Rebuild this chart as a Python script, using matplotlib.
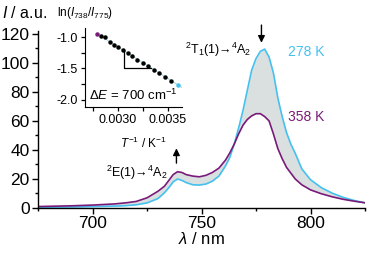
import numpy as np
import matplotlib
matplotlib.use('Agg')
import matplotlib.pyplot as plt
from matplotlib.ticker import MultipleLocator, FormatStrFormatter

plt.rcParams['font.family'] = ['Liberation Sans', 'DejaVu Sans']
plt.rcParams['mathtext.fontset'] = 'custom'
plt.rcParams['mathtext.rm'] = 'Liberation Sans'
plt.rcParams['mathtext.it'] = 'Liberation Sans:italic'
plt.rcParams['axes.unicode_minus'] = False

# emission spectra, common wavelength grid
wavelength = [675, 690, 700, 710, 715, 720, 725, 730, 733, 735, 737, 739, 741, 743,
              746, 749, 752, 755, 758, 761, 763, 765, 767, 769, 771, 773, 775, 777,
              779, 781, 783, 785, 787, 789, 791, 793, 796, 800, 805, 810, 815, 820, 825]
spec_278 = [0.5, 0.7, 1.0, 1.3, 1.6, 2.2, 3.5, 6.5, 10.5, 14, 18, 20, 19, 17.5,
            16, 15.8, 16.5, 18.5, 22, 29, 35, 44, 55, 67, 81, 95, 103, 108,
            109.5, 104, 93, 76, 63, 52, 44, 37.7, 27, 19.5, 14, 10.2, 7.3, 5.2, 3.5]
spec_358 = [1.0, 1.5, 2.0, 2.8, 3.5, 4.5, 7, 11.5, 15, 19, 23, 25, 24.5, 23,
            22, 21.5, 22.5, 24.5, 27.5, 33, 38, 44, 51, 57, 61, 63.5, 65, 65,
            63, 60, 51, 41, 34, 28, 24, 20, 16, 12.5, 9.8, 7.7, 6, 4.7, 3.6]

# inset: ln(I738/I775) vs 1/T
temps = [358, 353, 348, 343, 338, 333, 328, 323, 318, 313, 308, 303, 298, 293, 288, 283, 278]
ln_ratio = [-0.95, -0.98, -1.00, -1.07, -1.12, -1.16, -1.21, -1.25, -1.30, -1.36,
            -1.41, -1.46, -1.52, -1.57, -1.63, -1.70, -1.76]

cyan = '#45c1f0'
purple = '#7a1a78'

fig = plt.figure(figsize=(3.67, 2.56), dpi=100)
ax = fig.add_axes([38/367, 48/256, 327/367, 177/256])

wl = np.array(wavelength)
s1 = np.array(spec_278)
s2 = np.array(spec_358)
ax.fill_between(wl, s1, s2, color='#dae0e0', lw=0)
ax.plot(wl, s1, color=cyan, lw=1.2)
ax.plot(wl, s2, color=purple, lw=1.2)

ax.set_xlim(675, 825)
ax.set_ylim(0, 122)
ax.xaxis.set_major_locator(MultipleLocator(50))
ax.xaxis.set_minor_locator(MultipleLocator(25))
ax.yaxis.set_major_locator(MultipleLocator(20))
ax.yaxis.set_minor_locator(MultipleLocator(10))
for s in ['top', 'right']:
    ax.spines[s].set_visible(False)
for s in ['left', 'bottom']:
    ax.spines[s].set_linewidth(1.0)
ax.tick_params(which='major', direction='out', length=4.5, width=1.0, labelsize=12.5, pad=1.5)
ax.tick_params(which='minor', direction='out', length=2.5, width=1.0)
ax.set_xlabel(r'$\lambda$ / nm', fontsize=12, labelpad=0)
fig.text(2/367, 1 - 18/256, r'$I$ / a.u.', fontsize=11.5, ha='left', va='baseline')

# annotations
ax.annotate('', xy=(777.5, 112), xytext=(777.5, 128),
            arrowprops=dict(arrowstyle='-|>', color='black', lw=1.0, mutation_scale=10),
            annotation_clip=False)
ax.annotate('', xy=(738.5, 43), xytext=(738.5, 29),
            arrowprops=dict(arrowstyle='-|>', color='black', lw=1.0, mutation_scale=10))
ax.text(773, 109, r'$^2$T$_1$(1)→$^4$A$_2$', fontsize=9, ha='right', va='center')
ax.text(734.5, 24, r'$^2$E(1)→$^4$A$_2$', fontsize=9, ha='right', va='center')
ax.text(789.5, 107.5, '278 K', color=cyan, fontsize=10, ha='left', va='center')
ax.text(789.5, 63, '358 K', color=purple, fontsize=10, ha='left', va='center')

# inset
ax2 = fig.add_axes([85/367, 149/256, 97/367, 79/256])
invT = 1.0 / np.array(temps, dtype=float)
ln = np.array(ln_ratio)
k, b = np.polyfit(invT, ln, 1)
xx = np.array([invT[0], 0.00364])
ax2.plot(xx, k * xx + b, color='#a9dbe3', lw=0.8)
ax2.plot(invT[1:-1], ln[1:-1], 'o', color='black', ms=2.2)
ax2.plot(invT[0], ln[0], 'o', color=purple, ms=2.2)
ax2.plot(invT[-1], ln[-1], 'o', color=cyan, ms=2.2)

# slope triangle
x0 = 0.00306
y1 = -1.49
x1 = (y1 - b) / k
ax2.plot([x0, x0, x1], [k * x0 + b, y1, y1], color='black', lw=0.9)

ax2.set_xlim(0.00267, 0.00364)
ax2.set_ylim(-2.12, -0.85)
ax2.xaxis.set_major_locator(MultipleLocator(0.0005))
ax2.xaxis.set_minor_locator(MultipleLocator(0.00025))
ax2.xaxis.set_major_formatter(FormatStrFormatter('%.4f'))
ax2.yaxis.set_major_locator(MultipleLocator(0.5))
ax2.yaxis.set_minor_locator(MultipleLocator(0.25))
ax2.yaxis.set_major_formatter(FormatStrFormatter('%.1f'))
ax2.patch.set_alpha(0)
for s in ['top', 'right']:
    ax2.spines[s].set_visible(False)
ax2.tick_params(which='major', direction='out', length=3, width=0.9, labelsize=9, pad=2)
ax2.tick_params(which='minor', direction='out', length=3, width=0.9)
ax2.text(0.04, 0.05, r'$\Delta E$ = 700 cm$^{-1}$', transform=ax2.transAxes,
         fontsize=9.5, ha='left', va='bottom')
fig.text(143/367, 1 - 143/256, r'$T^{-1}$ / K$^{-1}$', fontsize=8.5, ha='center', va='center')
fig.text(85/367, 1 - 16/256, r'ln($I_{738}$/$I_{775}$)', fontsize=8.5, ha='center', va='baseline')

fig.savefig('out.png', dpi=100)
